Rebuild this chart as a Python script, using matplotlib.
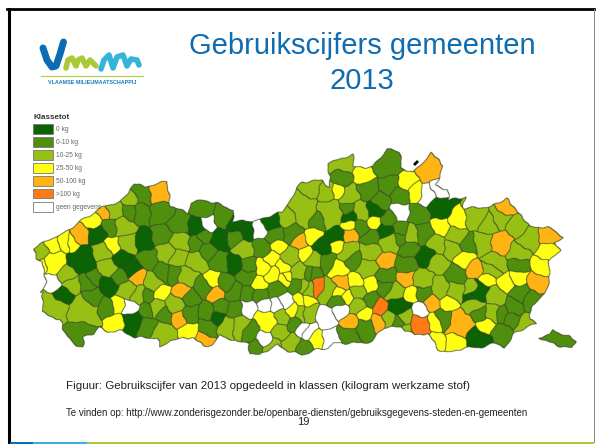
import matplotlib
matplotlib.use("Agg")
import matplotlib.pyplot as plt
from matplotlib.colors import to_rgb
from matplotlib.path import Path
from matplotlib.patches import Rectangle
import numpy as np

plt.rcParams['font.family'] = ['Liberation Sans', 'DejaVu Sans']

titel = "Gebruikscijfers gemeenten\n2013"
klassen = ["0 kg", "0-10 kg", "10-25 kg", "25-50 kg", "50-100 kg", ">100 kg", "geen gegevens"]
kleuren = ["#0b6304", "#4f8f0e", "#98bf14", "#ffff14", "#ffb414", "#ff7a14", "#ffffff"]
# how far each class reaches from its point (smaller number = larger gemeente)
klasse_schaal = [0.95, 1.0, 0.9, 1.1, 1.1, 1.0, 1.05]

# map outline, slide pixels
vlaanderen = [(33,248),(63,233),(102,207),(120,202),(135,183),(145,187),(167,181),(170,205),(187,213),
    (192,202),(203,200),(217,203),(233,210),(233,222),(248,220),(253,222),(263,218),(278,213),(282,212),
    (302,182),(321,180),(330,187),(328,163),(353,154),(353,167),(373,167),(376,162),(388,148),(400,153),
    (401,167),(413,173),(431,153),(443,165),(436,185),(448,190),(448,200),(465,197),(463,208),(491,207),
    (506,198),(516,210),(531,227),(548,227),(563,237),(555,243),(560,250),(548,263),(550,280),(545,293),
    (531,307),(530,320),(536,323),(515,333),(505,347),(495,343),(478,348),(465,347),(455,352),(438,350),
    (428,333),(416,335),(401,327),(385,327),(371,342),(351,343),(333,343),(328,348),(315,350),(303,355),
    (287,350),(277,345),(260,355),(250,353),(248,342),(237,342),(220,335),(212,345),(203,346),(192,337),
    (170,340),(160,348),(157,338),(135,337),(120,330),(108,332),(98,327),(95,333),(83,337),(83,348),
    (75,345),(63,330),(60,320),(42,312),(43,293),(40,293),(47,283),(43,270),(42,262),(37,258)]
voeren = [(538,337),(550,335),(553,330),(570,337),(575,342),(572,348),(560,346),(548,342)]

# one point per gemeente, per class
klasse_0 = [(98,235),(83,260),(143,242),(123,260),(130,268),(197,227),(220,240),(247,230),(237,225),(272,222),
    (235,263),(108,285),(63,295),(133,320),(218,318),(350,217),(375,210),(440,208),(385,230),(321,247),
    (336,237),(428,257),(398,307),(476,293),(478,338)]
klasse_1 = [(110,227),(130,211),(140,212),(142,192),(160,212),(162,237),(148,258),(163,273),(120,277),(93,278),
    (180,225),(203,210),(222,218),(197,243),(203,237),(220,262),(207,250),(235,238),(248,265),(262,248),
    (275,235),(292,233),(312,273),(318,220),(173,273),(247,277),(88,282),(93,297),(107,308),(80,332),
    (148,325),(148,295),(148,310),(165,315),(190,298),(190,313),(207,312),(208,327),(203,287),(225,283),
    (235,292),(220,308),(235,310),(250,330),(247,293),(260,295),(255,350),(293,324),(277,290),(297,285),
    (305,347),(341,177),(388,163),(390,185),(368,190),(400,195),(380,202),(348,208),(418,215),(361,227),
    (388,220),(401,230),(423,233),(518,264),(468,245),(408,248),(401,238),(371,237),(326,262),(355,260),
    (406,265),(386,277),(456,277),(520,293),(423,293),(385,287),(311,273),(371,300),(338,300),(443,318),
    (365,327),(348,335),(480,313),(503,332),(501,313),(513,307),(531,300),(511,320),(555,340),(398,322)]
klasse_2 = [(40,253),(114,209),(130,198),(123,227),(102,252),(107,268),(128,243),(167,252),(67,277),(180,242),
    (178,258),(195,262),(243,250),(287,217),(303,210),(290,257),(298,273),(315,260),(187,275),(70,283),
    (128,290),(53,308),(83,312),(138,295),(153,283),(155,307),(163,332),(175,305),(227,325),(240,325),
    (282,332),(272,347),(290,342),(283,317),(303,313),(307,288),(341,160),(326,192),(348,197),(313,188),
    (330,213),(360,212),(455,237),(476,218),(488,225),(483,242),(501,218),(516,227),(528,240),(518,253),
    (495,263),(451,247),(438,245),(410,235),(390,242),(348,250),(370,252),(366,267),(423,280),(436,262),
    (491,270),(473,290),(455,290),(441,288),(395,293),(358,292),(305,287),(328,290),(358,305),(390,318),
    (405,330),(405,317),(305,313),(475,305),(495,297),(493,312),(525,327)]
klasse_3 = [(53,245),(65,243),(72,243),(53,262),(40,265),(95,220),(112,245),(278,247),(313,237),(305,253),
    (272,258),(283,267),(263,267),(287,277),(213,280),(118,305),(115,322),(160,293),(190,332),(258,285),
    (267,320),(292,311),(302,300),(286,278),(273,274),(315,340),(363,175),(406,182),(416,193),(338,192),
    (375,223),(350,224),(441,227),(458,220),(338,245),(546,252),(541,265),(465,258),(488,278),(506,283),
    (518,278),(411,295),(338,270),(338,293),(348,297),(356,282),(370,285),(448,303),(435,322),(365,313),
    (455,343),(436,343),(485,325),(305,300)]
klasse_4 = [(80,237),(103,213),(157,191),(138,278),(300,242),(182,292),(178,318),(203,340),(216,294),(431,167),
    (501,243),(505,210),(548,235),(475,270),(386,260),(350,235),(406,278),(536,283),(341,282),(431,303),
    (378,322),(350,322),(460,323)]
klasse_5 = [(318,287),(380,307),(418,325)]
klasse_6 = [(53,283),(208,223),(258,230),(130,307),(248,308),(265,305),(276,305),(285,301),(307,332),(265,340),
    (400,212),(440,188),(426,195),(420,310),(326,317),(341,310),(331,340),(303,330)]
# the big gemeenten
groot = [(83,260),(53,262),(53,308),(83,312),(80,332),(476,293),(341,160),(142,192),(157,191),(431,167),
    (501,243),(303,210),(330,213),(398,307),(418,325),(460,323),(267,320),(388,163)]

fig = plt.figure(figsize=(5.96, 4.44), dpi=100)
ax = fig.add_axes([0, 0, 1, 1])
ax.set_xlim(0, 596)
ax.set_ylim(444, 0)
ax.axis("off")

# gemeente areas: nearest point, cut by the outline
alle = [klasse_0, klasse_1, klasse_2, klasse_3, klasse_4, klasse_5, klasse_6]
pts = np.array([p for k in alle for p in k], dtype=float)
cls = np.array([i for i, k in enumerate(alle) for p in k])
schaal = np.array(klasse_schaal)[cls]
for i, p in enumerate(pts):
    if tuple(p) in groot:
        schaal[i] *= 0.75
x0, x1, y0, y1 = 25, 585, 140, 362
sub = 3
xs = np.arange(x0, x1, 1 / sub)
ys = np.arange(y0, y1, 1 / sub)
gx, gy = np.meshgrid(xs, ys)
# slightly wavy borders instead of straight cell edges
wx = gx + 0.8 * np.sin(gy / 2.9) + 0.4 * np.sin(gy / 1.6 + gx / 3.7)
wy = gy + 0.8 * np.sin(gx / 3.1) + 0.4 * np.sin(gx / 1.7 + gy / 4.1)
lab = np.zeros(gx.shape, dtype=int)
for j in range(len(ys)):
    d = np.hypot(wx[j][:, None] - pts[:, 0], wy[j][:, None] - pts[:, 1]) * schaal
    lab[j] = d.argmin(axis=1)
q = np.column_stack([wx.ravel(), wy.ravel()])
binnen = Path(vlaanderen).contains_points(q) | Path(voeren).contains_points(q)
lab[~binnen.reshape(lab.shape)] = -1

rand = np.zeros(lab.shape, dtype=bool)
rand[:, 1:] |= lab[:, 1:] != lab[:, :-1]
rand[1:, :] |= lab[1:, :] != lab[:-1, :]
rand[:, :-1] |= rand[:, 1:].copy()
rand[:-1, :] |= rand[1:, :].copy()

kleur_rgb = np.array([to_rgb(c) for c in kleuren])
rgb = np.ones(lab.shape + (3,))
rgb[lab >= 0] = kleur_rgb[cls[lab[lab >= 0]]]
rgb[rand] = to_rgb("#35452a")
ax.imshow(rgb, extent=(x0, x1, y1, y0), interpolation="bilinear", aspect="auto", zorder=1)
ax.set_xlim(0, 596)
ax.set_ylim(444, 0)
ax.plot([415, 417], [164, 162], color="black", lw=2, zorder=2)

# legend
ax.text(33, 117, "Klassetot", fontsize=5.8, fontweight="bold", color="#333333", va="center", zorder=3)
for i, (k, c) in enumerate(zip(klassen, kleuren)):
    yy = 124 + i * 13
    ax.add_patch(Rectangle((33, yy), 20, 9.5, facecolor=c, edgecolor="#777777", lw=0.6, zorder=3))
    ax.text(56, yy + 5, k, fontsize=4.8, color="#666666", va="center", zorder=3)

# logo
ax.plot([43, 47, 52, 56, 60, 63.5], [48, 60, 67, 66, 54, 42], color="#0a6cb2", lw=5, solid_capstyle="round", zorder=3)
ax.plot([66, 68, 72, 76, 78, 82, 86, 90, 96], [68, 60, 58, 66, 60, 58, 66, 60, 66], color="#a9c936", lw=4,
        solid_capstyle="round", zorder=3)
ax.plot([101, 104, 109, 113, 117, 123, 127, 131, 137, 139], [69, 60, 55, 68, 57, 55, 66, 59, 60, 65], color="#34b4d8",
        lw=4, solid_capstyle="round", zorder=3)
ax.plot([41, 143], [76, 76], color="#b4cf50", lw=0.9, zorder=3)
ax.text(92, 82, "VLAAMSE MILIEUMAATSCHAPPIJ", fontsize=3.9, fontweight="bold", color="#1a78b8", ha="center",
        va="center", zorder=3)

# text
ax.text(362, 63.5, titel, fontsize=21, color="#0f6cb0", ha="center", va="center", linespacing=1.3, zorder=3)
ax.text(66, 386, "Figuur: Gebruikscijfer van 2013 opgedeeld in klassen (kilogram werkzame stof)", fontsize=8.25,
        color="#222222", va="center", zorder=3)
ax.text(66, 413, "Te vinden op: http://www.zonderisgezonder.be/openbare-diensten/gebruiksgegevens-steden-en-gemeenten",
        fontsize=7.0, color="#222222", va="center", zorder=3)
ax.text(303, 422, "19", fontsize=8, color="#222222", ha="center", va="center", zorder=3)

# slide frame
ax.plot([8.5, 8.5], [9, 442], color="black", lw=2.2, zorder=4)
ax.plot([7, 594], [9, 9], color="black", lw=2.0, zorder=4)
ax.plot([593.5, 593.5], [9, 442], color="#888888", lw=0.7, zorder=4)
ax.add_patch(Rectangle((10, 442), 23, 2, facecolor="#0a6cb2", edgecolor="none", zorder=4))
ax.add_patch(Rectangle((33, 442), 54, 2, facecolor="#34b4d8", edgecolor="none", zorder=4))
ax.add_patch(Rectangle((87, 442), 507, 2, facecolor="#a9c936", edgecolor="none", zorder=4))

fig.savefig("out.png", dpi=100)
